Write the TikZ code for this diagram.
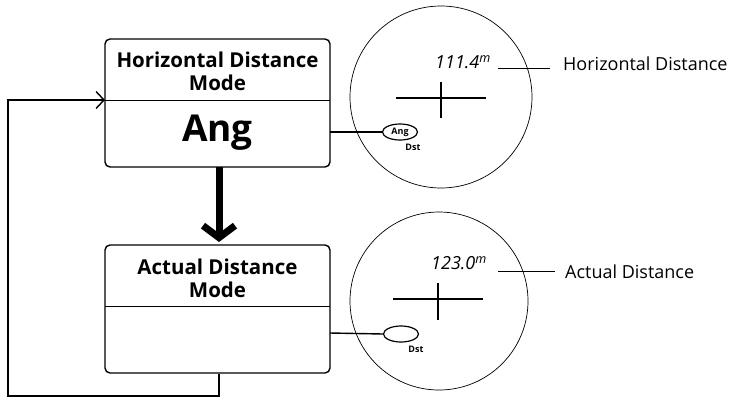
\documentclass[tikz,border=0pt]{standalone}
\usepackage{fontspec}
\setmainfont{Open Sans}
\usetikzlibrary{arrows.meta}
\usetikzlibrary{shapes.geometric}
\usetikzlibrary{positioning}
\tikzset{
  modebox/.style = {draw, line width=1.4pt, rounded corners=5pt, minimum width=225pt, minimum height=128pt, inner sep=0pt},
  boxtitle/.style = {align=center, font=\fontsize{20.5}{23}\selectfont\bfseries},
  viewcirc/.style = {draw, line width=0.7pt, circle, inner sep=0pt},
  sel/.style = {draw, line width=1.2pt, ellipse, minimum width=35pt, minimum height=16pt, inner sep=0pt, font=\fontsize{9}{10}\selectfont\bfseries},
  dst/.style = {font=\fontsize{9}{10}\selectfont\bfseries},
  lcd/.style = {font=\fontsize{18}{19}\selectfont\itshape, inner sep=0pt},
  side/.style = {font=\fontsize{18}{20}\selectfont, anchor=west, inner sep=0pt},
  conn/.style = {line width=1.4pt}
}
\begin{document}
\begin{tikzpicture}[x=1pt, y=-1pt]
\useasboundingbox (0,0) rectangle (739,400);
% mode boxes
\node [modebox] (hbox) at (217.5,103) {};
\node [modebox] (abox) at (217.5,309) {};
\draw [line width=0.8pt] (105,100) coordinate (hdiv) -- (330,100);
\draw [line width=0.8pt] (105,306) -- (330,306);
\node [boxtitle] (htitle) at (217.5,71) {Horizontal Distance\\Mode};
\node [boxtitle] (atitle) at (217.5,278) {Actual Distance\\Mode};
\node [font=\fontsize{37}{39}\selectfont\bfseries] (hang) at (217.5,133) {Ang};
% switch arrow
\draw [line width=7pt, -{Straight Barb[length=12pt, width=32pt]}] (219,167) -- (219,242);
% back loop
\coordinate (c1) at (219,396);
\coordinate (c2) at (8,396);
\coordinate (c3) at (8,100);
\draw [conn, -{Straight Barb[length=8pt, width=17pt]}] (abox.south -| c1) -- (c1) -- (c2) -- (c3) -- (hdiv);
% view of the horizontal mode
\node [viewcirc, minimum size=182pt] (hcirc) at (441,97) {};
\draw [line width=1.6pt] (396,98) -- (486,98);
\draw [line width=1.6pt] (441,82) -- (441,118);
\node [lcd] (hval) at (463,62) {111.4\textsuperscript{m}};
\node [sel] (hsel) at (400,132) {Ang};
\node [dst] (hdst) at (413,147) {Dst};
\draw [conn] (330,132) -- (hsel.west);
\node [side] (hlab) at (563,64) {Horizontal Distance};
\draw [line width=0.9pt] (498,68) -- (550,68);
% view of the actual mode
\node [viewcirc, minimum size=178pt] (acirc) at (439,301) {};
\draw [line width=1.6pt] (393,299) -- (483,299);
\draw [line width=1.6pt] (438,283) -- (438,320);
\node [lcd] (aval) at (459,263) {123.0\textsuperscript{m}};
\node [sel] (asel) at (401,334) {};
\node [dst] (adst) at (416,349) {Dst};
\draw [conn] (330,333) -- (asel.west);
\node [side] (alab) at (565,272) {Actual Distance};
\draw [line width=0.9pt] (498,271) -- (555,271);
\end{tikzpicture}
\end{document}
